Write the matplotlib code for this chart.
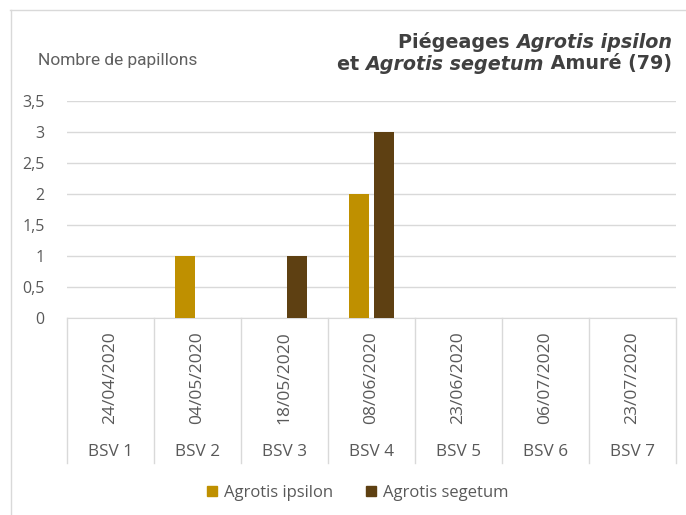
import matplotlib
matplotlib.use("Agg")
import matplotlib.pyplot as plt
import matplotlib.transforms as mtransforms
from matplotlib.lines import Line2D
from matplotlib.patches import Patch

# data
bsv = ["BSV 1", "BSV 2", "BSV 3", "BSV 4", "BSV 5", "BSV 6", "BSV 7"]
dates = ["24/04/2020", "04/05/2020", "18/05/2020", "08/06/2020",
         "23/06/2020", "06/07/2020", "23/07/2020"]
ipsilon = [0, 1, 0, 2, 0, 0, 0]
segetum = [0, 0, 1, 3, 0, 0, 0]
series_names = ["Agrotis ipsilon", "Agrotis segetum"]
yticks = [0, 0.5, 1, 1.5, 2, 2.5, 3, 3.5]

C_IPS = "#BF9000"
C_SEG = "#5E4012"
GRID = "#D9D9D9"
TXT = "#595959"
W, H = 686, 515

plt.rcParams["font.family"] = ["Open Sans", "DejaVu Sans"]

fig = plt.figure(figsize=(W / 100, H / 100), dpi=100)
ax = fig.add_axes([67 / W, 1 - 318 / H, (676 - 67) / W, (318 - 101) / H])

x = list(range(len(bsv)))
bw = 0.23
ax.bar([i - 0.145 for i in x], ipsilon, width=bw, color=C_IPS, zorder=3)
ax.bar([i + 0.145 for i in x], segetum, width=bw, color=C_SEG, zorder=3)

ax.set_xlim(-0.5, len(bsv) - 0.5)
ax.set_ylim(0, 3.5)
ax.set_yticks(yticks)
ax.set_yticklabels([("%g" % v).replace(".", ",") for v in yticks],
                   fontsize=11.5, color=TXT)
ax.tick_params(axis="y", length=0, pad=16)
ax.set_xticks([])
ax.yaxis.grid(True, color=GRID, linewidth=1)
ax.set_axisbelow(True)
for s in ["top", "right", "left"]:
    ax.spines[s].set_visible(False)
ax.spines["bottom"].set_color(GRID)

# category separators and two-level labels below the axis
tr = mtransforms.blended_transform_factory(ax.transData, fig.transFigure)
for k in range(len(bsv) + 1):
    ax.add_line(Line2D([k - 0.5, k - 0.5], [1 - 318 / H, 1 - 463 / H],
                       transform=tr, color=GRID, lw=1, clip_on=False))
for i in x:
    ax.text(i, 1 - 331 / H, dates[i], transform=tr, rotation=90,
            ha="center", va="top", fontsize=12.5, color=TXT)
    ax.text(i, 1 - 452 / H, bsv[i], transform=tr,
            ha="center", va="center", fontsize=12.3, color=TXT)

# y axis title
fig.text(38 / W, 1 - 61 / H, "Nombre de papillons", ha="left", va="center",
         fontsize=12.5, color="#606060", family=["Roboto", "DejaVu Sans"])


# title: mixed bold / bold italic pieces, right aligned
def right_aligned(pieces, xr, yc):
    fig.canvas.draw()
    rend = fig.canvas.get_renderer()
    xpos = xr
    for txt, style in reversed(pieces):
        t = fig.text(xpos, yc, txt, ha="right", va="center", fontsize=13.8,
                     fontweight="bold", fontstyle=style, color="#404040",
                     family="DejaVu Sans")
        bb = t.get_window_extent(rend).transformed(fig.transFigure.inverted())
        xpos = bb.x0


right_aligned([("Piégeages ", "normal"), ("Agrotis ipsilon", "italic")],
              672 / W, 1 - 42 / H)
right_aligned([("et ", "normal"), ("Agrotis segetum", "italic"),
               (" Amuré (79)", "normal")], 672 / W, 1 - 64 / H)

# legend
handles = [Patch(color=C_IPS), Patch(color=C_SEG)]
fig.legend(handles, series_names, loc="center", ncol=2,
           bbox_to_anchor=(358 / W, 1 - 493 / H), frameon=False,
           handlelength=0.6, handleheight=0.6, handletextpad=0.4,
           columnspacing=2.0, prop={"size": 12},
           labelcolor=TXT)

# outer chart border (top and left visible in the crop)
fig.add_artist(Line2D([10 / W, 1], [1 - 10 / H, 1 - 10 / H],
                      transform=fig.transFigure, color="#D9D9D9", lw=1))
fig.add_artist(Line2D([11 / W, 11 / W], [0, 1 - 10 / H],
                      transform=fig.transFigure, color="#D9D9D9", lw=1))

fig.savefig("out.png", dpi=100)
